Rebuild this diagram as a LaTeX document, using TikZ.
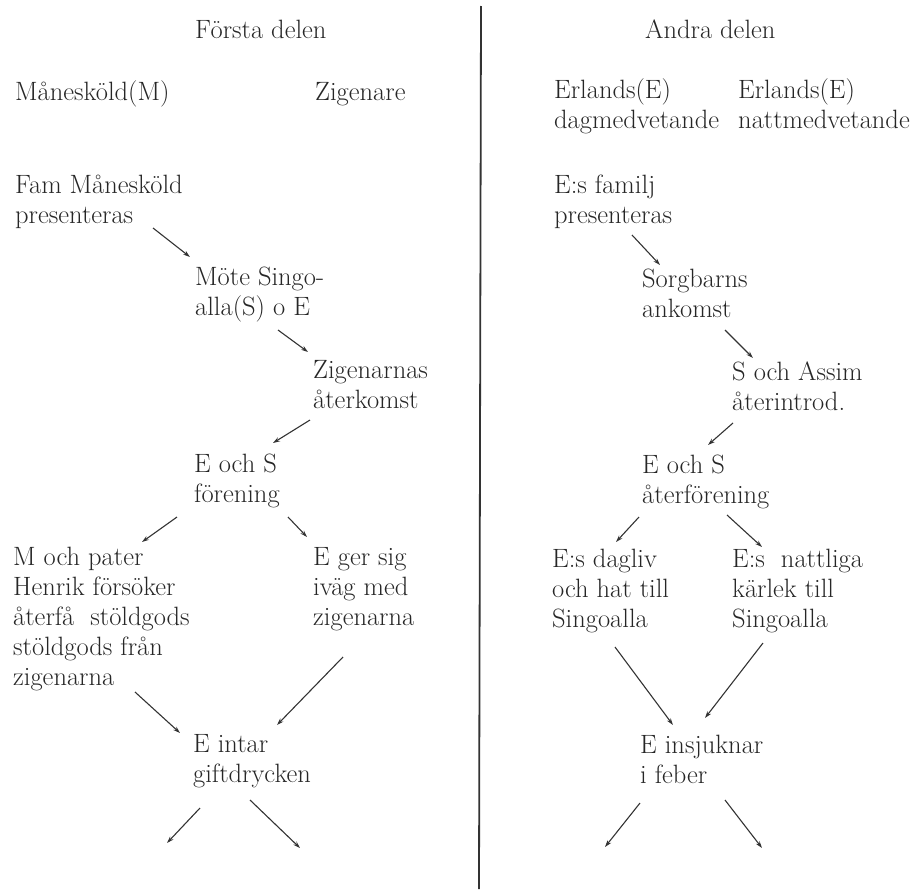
\documentclass[tikz,border=0pt]{standalone}
\usepackage{fontspec}
\usetikzlibrary{arrows.meta}

\begin{document}
\begin{tikzpicture}[x=1pt, y=-1pt,
		txt/.style={anchor=base west, inner sep=0pt, align=left, text=black!85,
			font=\fontsize{26.5}{30}\selectfont},
		arr/.style={-{Stealth[length=7pt,width=4.5pt]}, line width=1.1pt, draw=black!80}]
		\useasboundingbox (0,0) rectangle (921,889);

		% Draw the divider between the two parts
		\draw[line width=1.8pt, black!80] (481,6) -- (479,889);

		% Headings
		\node[txt] (forsta) at (195,38) {Första delen};
		\node[txt] (andra) at (645,38) {Andra delen};
		\node[txt] (manesk) at (15,100) {Månesk\"{o}ld(M)};
		\node[txt] (zigen) at (315,100) {Zigenare};
		\node[txt] (dag) at (554,128) {Erlands(E)\\dagmedvetande};
		\node[txt] (natt) at (738,128) {Erlands(E)\\nattmedvetande};

		% First part
		\node[txt] (fam) at (15,223) {Fam Månesk\"{o}ld\\presenteras};
		\node[txt] (mote) at (195,315) {Möte Singo-\\alla(S) o E};
		\node[txt] (aterk) at (313,408) {Zigenarnas\\återkomst};
		\node[txt] (foren) at (194,502) {E och S\\förening};
		\node[txt] (pater) at (13,685) {M och pater\\Henrik försöker\\återfå\ \ stöldgods\\stöldgods från\\zigenarna};
		\node[txt] (ivag) at (313,625) {E ger sig\\iväg med\\zigenarna};
		\node[txt] (gift) at (193,782) {E intar\\giftdrycken};

		% Second part
		\node[txt] (famj) at (554,223) {E:s familj\\presenteras};
		\node[txt] (sorg) at (642,317) {Sorgbarns\\ankomst};
		\node[txt] (assim) at (732,410) {S och Assim\\återintrod.};
		\node[txt] (ater) at (642,503) {E och S\\återförening};
		\node[txt] (dagliv) at (552,627) {E:s dagliv\\och hat till\\Singoalla};
		\node[txt] (nattl) at (732,627) {E:s\ \ nattliga\\kärlek till\\Singoalla};
		\node[txt] (feber) at (640,783) {E insjuknar\\i feber};

		% Open ends at the bottom
		\coordinate (giftL) at ([shift={(-26,61)}]gift.base west);
		\coordinate (giftR) at ([shift={(107,66)}]gift.base west);
		\coordinate (feberL) at ([shift={(-35,64)}]feber.base west);
		\coordinate (feberR) at ([shift={(122,65)}]feber.base west);

		% Arrows of the first part
		\draw[arr] ([shift={(138,5)}]fam.base west) -- ([shift={(-5,-58)}]mote.base west);
		\draw[arr] ([shift={(83,15)}]mote.base west) -- ([shift={(-5,-56)}]aterk.base west);
		\draw[arr] ([shift={(-3,12)}]aterk.base west) -- ([shift={(79,-59)}]foren.base west);
		\draw[arr] ([shift={(-17,15)}]foren.base west) -- ([shift={(129,-143)}]pater.base west);
		\draw[arr] ([shift={(94,15)}]foren.base west) -- ([shift={(-6,-88)}]ivag.base west);
		\draw[arr] ([shift={(122,7)}]pater.base west) -- ([shift={(-13,-49)}]gift.base west);
		\draw[arr] ([shift={(30,32)}]ivag.base west) -- ([shift={(84,-57)}]gift.base west);
		\draw[arr] ([shift={(7,26)}]gift.base west) -- (giftL);
		\draw[arr] ([shift={(57,18)}]gift.base west) -- (giftR);

		% Arrows of the second part
		\draw[arr] ([shift={(78,12)}]famj.base west) -- ([shift={(18,-52)}]sorg.base west);
		\draw[arr] ([shift={(83,13)}]sorg.base west) -- ([shift={(21,-52)}]assim.base west);
		\draw[arr] ([shift={(1,13)}]assim.base west) -- ([shift={(66,-58)}]ater.base west);
		\draw[arr] ([shift={(-3,14)}]ater.base west) -- ([shift={(64,-85)}]dagliv.base west);
		\draw[arr] ([shift={(85,12)}]ater.base west) -- ([shift={(30,-80)}]nattl.base west);
		\draw[arr] ([shift={(63,20)}]dagliv.base west) -- ([shift={(33,-58)}]feber.base west);
		\draw[arr] ([shift={(31,16)}]nattl.base west) -- ([shift={(65,-65)}]feber.base west);
		\draw[arr] ([shift={(0,20)}]feber.base west) -- (feberL);
		\draw[arr] ([shift={(85,17)}]feber.base west) -- (feberR);

	\end{tikzpicture}
\end{document}
